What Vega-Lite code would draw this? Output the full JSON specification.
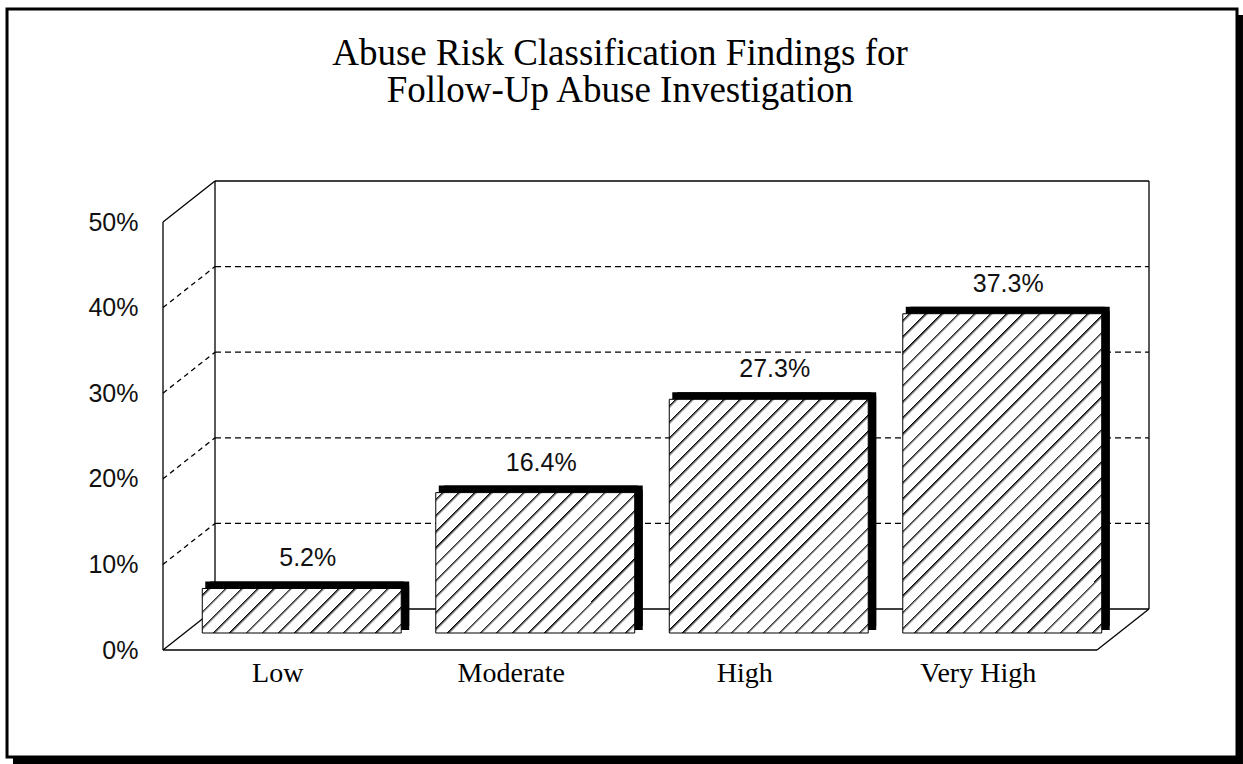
{
  "$schema": "https://vega.github.io/schema/vega-lite/v6.json",
  "width": 934,
  "height": 428,
  "autosize": {"type": "none"},
  "padding": {"left": 163, "top": 222, "right": 146, "bottom": 114},
  "background": "white",
  "config": {"view": {"stroke": null}},
  "title": {
    "text": ["Abuse Risk Classification Findings for", "Follow-Up Abuse Investigation"],
    "font": "Liberation Serif",
    "fontSize": 37,
    "fontWeight": "normal",
    "color": "black",
    "anchor": "middle",
    "frame": "group",
    "baseline": "top",
    "lineHeight": 37,
    "offset": -102,
    "dx": -10
  },
  "data": {
    "values": [
      {"risk": "Low", "pct": 0.052},
      {"risk": "Moderate", "pct": 0.164},
      {"risk": "High", "pct": 0.273},
      {"risk": "Very High", "pct": 0.373}
    ]
  },
  "resolve": {"scale": {"x": "independent"}},
  "layer": [
    {
      "data": {"values": [{"n": 1}]},
      "layer": [
        {
          "mark": {"type": "rect", "color": "black"},
          "encoding": {
            "x": {"datum": -0.1606, "type": "quantitative", "scale": {"domain": [0, 1], "nice": false}, "axis": null},
            "x2": {"datum": 1.1563},
            "y": {"datum": -0.1332, "type": "quantitative"},
            "y2": {"datum": 0.7418}
          }
        },
        {
          "mark": {"type": "rect", "fill": "white", "stroke": "black", "strokeWidth": 3},
          "encoding": {
            "x": {"datum": -0.167, "type": "quantitative", "scale": {"domain": [0, 1], "nice": false}, "axis": null},
            "x2": {"datum": 1.1499},
            "y": {"datum": -0.125, "type": "quantitative"},
            "y2": {"datum": 0.7488}
          }
        },
        {
          "data": {"values": [{"v": 0.1}, {"v": 0.2}, {"v": 0.3}, {"v": 0.4}]},
          "mark": {"type": "rule", "color": "black", "strokeWidth": 1.3, "strokeDash": [6, 4], "xOffset": 52, "x2Offset": 52, "yOffset": -41},
          "encoding": {
            "x": {"datum": 0, "type": "quantitative", "scale": {"domain": [0, 1], "nice": false}, "axis": null},
            "x2": {"datum": 1},
            "y": {"field": "v", "type": "quantitative"}
          }
        },
        {
          "data": {"values": [{"v": 0}, {"v": 0.5}]},
          "mark": {"type": "rule", "color": "black", "strokeWidth": 1.3, "xOffset": 52, "x2Offset": 52, "yOffset": -41},
          "encoding": {
            "x": {"datum": 0, "type": "quantitative", "scale": {"domain": [0, 1], "nice": false}, "axis": null},
            "x2": {"datum": 1},
            "y": {"field": "v", "type": "quantitative"}
          }
        },
        {
          "mark": {"type": "rule", "color": "black", "strokeWidth": 1.3, "xOffset": 52, "yOffset": -41, "y2Offset": -41},
          "encoding": {
            "x": {"datum": 0, "type": "quantitative", "scale": {"domain": [0, 1], "nice": false}, "axis": null},
            "y": {"datum": 0, "type": "quantitative"},
            "y2": {"datum": 0.5}
          }
        },
        {
          "mark": {"type": "rule", "color": "black", "strokeWidth": 1.3, "xOffset": 52, "yOffset": -41, "y2Offset": -41},
          "encoding": {
            "x": {"datum": 1, "type": "quantitative", "scale": {"domain": [0, 1], "nice": false}, "axis": null},
            "y": {"datum": 0, "type": "quantitative"},
            "y2": {"datum": 0.5}
          }
        },
        {
          "mark": {"type": "rule", "color": "black", "strokeWidth": 1.3},
          "encoding": {
            "x": {"datum": 0, "type": "quantitative", "scale": {"domain": [0, 1], "nice": false}, "axis": null},
            "y": {"datum": 0, "type": "quantitative"},
            "y2": {"datum": 0.5}
          }
        },
        {
          "data": {"values": [{"v": 0.1}, {"v": 0.2}, {"v": 0.3}, {"v": 0.4}]},
          "mark": {"type": "rule", "color": "black", "strokeWidth": 1.3, "strokeDash": [5, 4], "x2Offset": 52, "y2Offset": -41},
          "encoding": {
            "x": {"datum": 0, "type": "quantitative", "scale": {"domain": [0, 1], "nice": false}, "axis": null},
            "x2": {"datum": 0},
            "y": {"field": "v", "type": "quantitative"},
            "y2": {"field": "v"}
          }
        },
        {
          "data": {"values": [{"v": 0}, {"v": 0.5}]},
          "mark": {"type": "rule", "color": "black", "strokeWidth": 1.3, "x2Offset": 52, "y2Offset": -41},
          "encoding": {
            "x": {"datum": 0, "type": "quantitative", "scale": {"domain": [0, 1], "nice": false}, "axis": null},
            "x2": {"datum": 0},
            "y": {"field": "v", "type": "quantitative"},
            "y2": {"field": "v"}
          }
        },
        {
          "mark": {"type": "rule", "color": "black", "strokeWidth": 1.3},
          "encoding": {
            "x": {"datum": 0, "type": "quantitative", "scale": {"domain": [0, 1], "nice": false}, "axis": null},
            "x2": {"datum": 1},
            "y": {"datum": 0, "type": "quantitative"}
          }
        },
        {
          "mark": {"type": "rule", "color": "black", "strokeWidth": 1.3, "x2Offset": 52, "y2Offset": -41},
          "encoding": {
            "x": {"datum": 1, "type": "quantitative", "scale": {"domain": [0, 1], "nice": false}, "axis": null},
            "x2": {"datum": 1},
            "y": {"datum": 0, "type": "quantitative"},
            "y2": {"datum": 0}
          }
        }
      ]
    },
    {
      "layer": [
        {
          "mark": {"type": "bar", "color": "black", "xOffset": 30, "yOffset": -24},
          "encoding": {
            "x": {"field": "risk", "type": "nominal", "scale": {"domain": ["Low", "Moderate", "High", "Very High"], "paddingInner": 0.148, "paddingOuter": 0.074}, "axis": {"labelFont": "Liberation Serif", "labelFontSize": 28, "labelColor": "black", "labelPadding": 9, "labelAngle": 0, "ticks": false, "domain": false, "grid": false, "labelOffset": -2, "zindex": 1}, "title": null},
            "y": {"field": "pct", "type": "quantitative", "scale": {"domain": [0, 0.5], "nice": false}, "axis": {"values": [0, 0.1, 0.2, 0.3, 0.4, 0.5], "format": ".0%", "grid": false, "domain": false, "ticks": false, "labelFont": "Liberation Sans", "labelFontSize": 25, "labelPadding": 25, "labelColor": "#111", "zindex": 1}, "title": null}
          }
        },
        {
          "mark": {"type": "bar", "color": "black", "xOffset": 25, "yOffset": -24},
          "encoding": {
            "x": {"field": "risk", "type": "nominal"},
            "y": {"field": "pct", "type": "quantitative"}
          }
        },
        {
          "mark": {"type": "bar", "color": "black", "xOffset": 30, "yOffset": -20},
          "encoding": {
            "x": {"field": "risk", "type": "nominal"},
            "y": {"field": "pct", "type": "quantitative"}
          }
        },
        {
          "transform": [{"filter": "datum.risk === 'Low'"}],
          "mark": {"type": "bar", "stroke": "black", "strokeWidth": 1, "xOffset": 22, "yOffset": -17,
            "fill": {"gradient": "linear", "x1": 0, "y1": 0, "x2": 1.1653, "y2": 0.2606, "stops": [
              {"offset": 0.0251, "color": "#fff"}, {"offset": 0.0251, "color": "#000"}, {"offset": 0.0415, "color": "#fff"},
              {"offset": 0.0918, "color": "#fff"}, {"offset": 0.0918, "color": "#000"}, {"offset": 0.1082, "color": "#fff"},
              {"offset": 0.1585, "color": "#fff"}, {"offset": 0.1585, "color": "#000"}, {"offset": 0.1749, "color": "#fff"},
              {"offset": 0.2251, "color": "#fff"}, {"offset": 0.2251, "color": "#000"}, {"offset": 0.2415, "color": "#fff"},
              {"offset": 0.2918, "color": "#fff"}, {"offset": 0.2918, "color": "#000"}, {"offset": 0.3082, "color": "#fff"},
              {"offset": 0.3585, "color": "#fff"}, {"offset": 0.3585, "color": "#000"}, {"offset": 0.3749, "color": "#fff"},
              {"offset": 0.4251, "color": "#fff"}, {"offset": 0.4251, "color": "#000"}, {"offset": 0.4415, "color": "#fff"},
              {"offset": 0.4918, "color": "#fff"}, {"offset": 0.4918, "color": "#000"}, {"offset": 0.5082, "color": "#fff"},
              {"offset": 0.5585, "color": "#fff"}, {"offset": 0.5585, "color": "#000"}, {"offset": 0.5749, "color": "#fff"},
              {"offset": 0.6251, "color": "#fff"}, {"offset": 0.6251, "color": "#000"}, {"offset": 0.6415, "color": "#fff"},
              {"offset": 0.6918, "color": "#fff"}, {"offset": 0.6918, "color": "#000"}, {"offset": 0.7082, "color": "#fff"},
              {"offset": 0.7585, "color": "#fff"}, {"offset": 0.7585, "color": "#000"}, {"offset": 0.7749, "color": "#fff"},
              {"offset": 0.8251, "color": "#fff"}, {"offset": 0.8251, "color": "#000"}, {"offset": 0.8415, "color": "#fff"},
              {"offset": 0.8918, "color": "#fff"}, {"offset": 0.8918, "color": "#000"}, {"offset": 0.9082, "color": "#fff"},
              {"offset": 0.9585, "color": "#fff"}, {"offset": 0.9585, "color": "#000"}, {"offset": 0.9749, "color": "#fff"}
            ]}},
          "encoding": {
            "x": {"field": "risk", "type": "nominal"},
            "y": {"field": "pct", "type": "quantitative"}
          }
        },
        {
          "transform": [{"filter": "datum.risk === 'Moderate'"}],
          "mark": {"type": "bar", "stroke": "black", "strokeWidth": 1, "xOffset": 22, "yOffset": -17,
            "fill": {"gradient": "linear", "x1": 0, "y1": 0, "x2": 1.1387, "y2": 0.8034, "stops": [
              {"offset": 0.0179, "color": "#fff"}, {"offset": 0.0179, "color": "#000"}, {"offset": 0.0297, "color": "#fff"},
              {"offset": 0.0655, "color": "#fff"}, {"offset": 0.0655, "color": "#000"}, {"offset": 0.0773, "color": "#fff"},
              {"offset": 0.1131, "color": "#fff"}, {"offset": 0.1131, "color": "#000"}, {"offset": 0.1249, "color": "#fff"},
              {"offset": 0.1608, "color": "#fff"}, {"offset": 0.1608, "color": "#000"}, {"offset": 0.1726, "color": "#fff"},
              {"offset": 0.2084, "color": "#fff"}, {"offset": 0.2084, "color": "#000"}, {"offset": 0.2202, "color": "#fff"},
              {"offset": 0.256, "color": "#fff"}, {"offset": 0.256, "color": "#000"}, {"offset": 0.2678, "color": "#fff"},
              {"offset": 0.3036, "color": "#fff"}, {"offset": 0.3036, "color": "#000"}, {"offset": 0.3154, "color": "#fff"},
              {"offset": 0.3512, "color": "#fff"}, {"offset": 0.3512, "color": "#000"}, {"offset": 0.363, "color": "#fff"},
              {"offset": 0.3989, "color": "#fff"}, {"offset": 0.3989, "color": "#000"}, {"offset": 0.4107, "color": "#fff"},
              {"offset": 0.4465, "color": "#fff"}, {"offset": 0.4465, "color": "#000"}, {"offset": 0.4583, "color": "#fff"},
              {"offset": 0.4941, "color": "#fff"}, {"offset": 0.4941, "color": "#000"}, {"offset": 0.5059, "color": "#fff"},
              {"offset": 0.5417, "color": "#fff"}, {"offset": 0.5417, "color": "#000"}, {"offset": 0.5535, "color": "#fff"},
              {"offset": 0.5893, "color": "#fff"}, {"offset": 0.5893, "color": "#000"}, {"offset": 0.6011, "color": "#fff"},
              {"offset": 0.637, "color": "#fff"}, {"offset": 0.637, "color": "#000"}, {"offset": 0.6488, "color": "#fff"},
              {"offset": 0.6846, "color": "#fff"}, {"offset": 0.6846, "color": "#000"}, {"offset": 0.6964, "color": "#fff"},
              {"offset": 0.7322, "color": "#fff"}, {"offset": 0.7322, "color": "#000"}, {"offset": 0.744, "color": "#fff"},
              {"offset": 0.7798, "color": "#fff"}, {"offset": 0.7798, "color": "#000"}, {"offset": 0.7916, "color": "#fff"},
              {"offset": 0.8274, "color": "#fff"}, {"offset": 0.8274, "color": "#000"}, {"offset": 0.8392, "color": "#fff"},
              {"offset": 0.8751, "color": "#fff"}, {"offset": 0.8751, "color": "#000"}, {"offset": 0.8869, "color": "#fff"},
              {"offset": 0.9227, "color": "#fff"}, {"offset": 0.9227, "color": "#000"}, {"offset": 0.9345, "color": "#fff"},
              {"offset": 0.9703, "color": "#fff"}, {"offset": 0.9703, "color": "#000"}, {"offset": 0.9821, "color": "#fff"}
            ]}},
          "encoding": {
            "x": {"field": "risk", "type": "nominal"},
            "y": {"field": "pct", "type": "quantitative"}
          }
        },
        {
          "transform": [{"filter": "datum.risk === 'High'"}],
          "mark": {"type": "bar", "stroke": "black", "strokeWidth": 1, "xOffset": 22, "yOffset": -17,
            "fill": {"gradient": "linear", "x1": 0, "y1": 0, "x2": 0.9139, "y2": 1.0733, "stops": [
              {"offset": 0.0139, "color": "#fff"}, {"offset": 0.0139, "color": "#000"}, {"offset": 0.0231, "color": "#fff"},
              {"offset": 0.051, "color": "#fff"}, {"offset": 0.051, "color": "#000"}, {"offset": 0.0602, "color": "#fff"},
              {"offset": 0.088, "color": "#fff"}, {"offset": 0.088, "color": "#000"}, {"offset": 0.0972, "color": "#fff"},
              {"offset": 0.125, "color": "#fff"}, {"offset": 0.125, "color": "#000"}, {"offset": 0.1342, "color": "#fff"},
              {"offset": 0.1621, "color": "#fff"}, {"offset": 0.1621, "color": "#000"}, {"offset": 0.1713, "color": "#fff"},
              {"offset": 0.1991, "color": "#fff"}, {"offset": 0.1991, "color": "#000"}, {"offset": 0.2083, "color": "#fff"},
              {"offset": 0.2361, "color": "#fff"}, {"offset": 0.2361, "color": "#000"}, {"offset": 0.2453, "color": "#fff"},
              {"offset": 0.2732, "color": "#fff"}, {"offset": 0.2732, "color": "#000"}, {"offset": 0.2824, "color": "#fff"},
              {"offset": 0.3102, "color": "#fff"}, {"offset": 0.3102, "color": "#000"}, {"offset": 0.3194, "color": "#fff"},
              {"offset": 0.3472, "color": "#fff"}, {"offset": 0.3472, "color": "#000"}, {"offset": 0.3565, "color": "#fff"},
              {"offset": 0.3843, "color": "#fff"}, {"offset": 0.3843, "color": "#000"}, {"offset": 0.3935, "color": "#fff"},
              {"offset": 0.4213, "color": "#fff"}, {"offset": 0.4213, "color": "#000"}, {"offset": 0.4305, "color": "#fff"},
              {"offset": 0.4584, "color": "#fff"}, {"offset": 0.4584, "color": "#000"}, {"offset": 0.4676, "color": "#fff"},
              {"offset": 0.4954, "color": "#fff"}, {"offset": 0.4954, "color": "#000"}, {"offset": 0.5046, "color": "#fff"},
              {"offset": 0.5324, "color": "#fff"}, {"offset": 0.5324, "color": "#000"}, {"offset": 0.5416, "color": "#fff"},
              {"offset": 0.5695, "color": "#fff"}, {"offset": 0.5695, "color": "#000"}, {"offset": 0.5787, "color": "#fff"},
              {"offset": 0.6065, "color": "#fff"}, {"offset": 0.6065, "color": "#000"}, {"offset": 0.6157, "color": "#fff"},
              {"offset": 0.6435, "color": "#fff"}, {"offset": 0.6435, "color": "#000"}, {"offset": 0.6527, "color": "#fff"},
              {"offset": 0.6806, "color": "#fff"}, {"offset": 0.6806, "color": "#000"}, {"offset": 0.6898, "color": "#fff"},
              {"offset": 0.7176, "color": "#fff"}, {"offset": 0.7176, "color": "#000"}, {"offset": 0.7268, "color": "#fff"},
              {"offset": 0.7547, "color": "#fff"}, {"offset": 0.7547, "color": "#000"}, {"offset": 0.7639, "color": "#fff"},
              {"offset": 0.7917, "color": "#fff"}, {"offset": 0.7917, "color": "#000"}, {"offset": 0.8009, "color": "#fff"},
              {"offset": 0.8287, "color": "#fff"}, {"offset": 0.8287, "color": "#000"}, {"offset": 0.8379, "color": "#fff"},
              {"offset": 0.8658, "color": "#fff"}, {"offset": 0.8658, "color": "#000"}, {"offset": 0.875, "color": "#fff"},
              {"offset": 0.9028, "color": "#fff"}, {"offset": 0.9028, "color": "#000"}, {"offset": 0.912, "color": "#fff"},
              {"offset": 0.9398, "color": "#fff"}, {"offset": 0.9398, "color": "#000"}, {"offset": 0.949, "color": "#fff"},
              {"offset": 0.9769, "color": "#fff"}, {"offset": 0.9769, "color": "#000"}, {"offset": 0.9861, "color": "#fff"}
            ]}},
          "encoding": {
            "x": {"field": "risk", "type": "nominal"},
            "y": {"field": "pct", "type": "quantitative"}
          }
        },
        {
          "transform": [{"filter": "datum.risk === 'Very High'"}],
          "mark": {"type": "bar", "stroke": "black", "strokeWidth": 1, "xOffset": 22, "yOffset": -17,
            "fill": {"gradient": "linear", "x1": 0, "y1": 0, "x2": 0.7287, "y2": 1.1691, "stops": [
              {"offset": 0.0117, "color": "#fff"}, {"offset": 0.0117, "color": "#000"}, {"offset": 0.0195, "color": "#fff"},
              {"offset": 0.043, "color": "#fff"}, {"offset": 0.043, "color": "#000"}, {"offset": 0.0508, "color": "#fff"},
              {"offset": 0.0742, "color": "#fff"}, {"offset": 0.0742, "color": "#000"}, {"offset": 0.082, "color": "#fff"},
              {"offset": 0.1055, "color": "#fff"}, {"offset": 0.1055, "color": "#000"}, {"offset": 0.1133, "color": "#fff"},
              {"offset": 0.1367, "color": "#fff"}, {"offset": 0.1367, "color": "#000"}, {"offset": 0.1445, "color": "#fff"},
              {"offset": 0.168, "color": "#fff"}, {"offset": 0.168, "color": "#000"}, {"offset": 0.1758, "color": "#fff"},
              {"offset": 0.1992, "color": "#fff"}, {"offset": 0.1992, "color": "#000"}, {"offset": 0.207, "color": "#fff"},
              {"offset": 0.2305, "color": "#fff"}, {"offset": 0.2305, "color": "#000"}, {"offset": 0.2383, "color": "#fff"},
              {"offset": 0.2617, "color": "#fff"}, {"offset": 0.2617, "color": "#000"}, {"offset": 0.2695, "color": "#fff"},
              {"offset": 0.293, "color": "#fff"}, {"offset": 0.293, "color": "#000"}, {"offset": 0.3008, "color": "#fff"},
              {"offset": 0.3242, "color": "#fff"}, {"offset": 0.3242, "color": "#000"}, {"offset": 0.332, "color": "#fff"},
              {"offset": 0.3555, "color": "#fff"}, {"offset": 0.3555, "color": "#000"}, {"offset": 0.3633, "color": "#fff"},
              {"offset": 0.3867, "color": "#fff"}, {"offset": 0.3867, "color": "#000"}, {"offset": 0.3945, "color": "#fff"},
              {"offset": 0.418, "color": "#fff"}, {"offset": 0.418, "color": "#000"}, {"offset": 0.4258, "color": "#fff"},
              {"offset": 0.4492, "color": "#fff"}, {"offset": 0.4492, "color": "#000"}, {"offset": 0.457, "color": "#fff"},
              {"offset": 0.4805, "color": "#fff"}, {"offset": 0.4805, "color": "#000"}, {"offset": 0.4883, "color": "#fff"},
              {"offset": 0.5117, "color": "#fff"}, {"offset": 0.5117, "color": "#000"}, {"offset": 0.5195, "color": "#fff"},
              {"offset": 0.543, "color": "#fff"}, {"offset": 0.543, "color": "#000"}, {"offset": 0.5508, "color": "#fff"},
              {"offset": 0.5742, "color": "#fff"}, {"offset": 0.5742, "color": "#000"}, {"offset": 0.582, "color": "#fff"},
              {"offset": 0.6055, "color": "#fff"}, {"offset": 0.6055, "color": "#000"}, {"offset": 0.6133, "color": "#fff"},
              {"offset": 0.6367, "color": "#fff"}, {"offset": 0.6367, "color": "#000"}, {"offset": 0.6445, "color": "#fff"},
              {"offset": 0.668, "color": "#fff"}, {"offset": 0.668, "color": "#000"}, {"offset": 0.6758, "color": "#fff"},
              {"offset": 0.6992, "color": "#fff"}, {"offset": 0.6992, "color": "#000"}, {"offset": 0.707, "color": "#fff"},
              {"offset": 0.7305, "color": "#fff"}, {"offset": 0.7305, "color": "#000"}, {"offset": 0.7383, "color": "#fff"},
              {"offset": 0.7617, "color": "#fff"}, {"offset": 0.7617, "color": "#000"}, {"offset": 0.7695, "color": "#fff"},
              {"offset": 0.793, "color": "#fff"}, {"offset": 0.793, "color": "#000"}, {"offset": 0.8008, "color": "#fff"},
              {"offset": 0.8242, "color": "#fff"}, {"offset": 0.8242, "color": "#000"}, {"offset": 0.832, "color": "#fff"},
              {"offset": 0.8555, "color": "#fff"}, {"offset": 0.8555, "color": "#000"}, {"offset": 0.8633, "color": "#fff"},
              {"offset": 0.8867, "color": "#fff"}, {"offset": 0.8867, "color": "#000"}, {"offset": 0.8945, "color": "#fff"},
              {"offset": 0.918, "color": "#fff"}, {"offset": 0.918, "color": "#000"}, {"offset": 0.9258, "color": "#fff"},
              {"offset": 0.9492, "color": "#fff"}, {"offset": 0.9492, "color": "#000"}, {"offset": 0.957, "color": "#fff"},
              {"offset": 0.9805, "color": "#fff"}, {"offset": 0.9805, "color": "#000"}, {"offset": 0.9883, "color": "#fff"}
            ]}},
          "encoding": {
            "x": {"field": "risk", "type": "nominal"},
            "y": {"field": "pct", "type": "quantitative"}
          }
        },
        {
          "mark": {"type": "text", "font": "Liberation Sans", "fontSize": 25, "color": "#111", "baseline": "alphabetic", "align": "center", "xOffset": 28, "yOffset": -39},
          "encoding": {
            "x": {"field": "risk", "type": "nominal"},
            "y": {"field": "pct", "type": "quantitative"},
            "text": {"field": "pct", "type": "quantitative", "format": ".1%"}
          }
        }
      ]
    }
  ]
}
